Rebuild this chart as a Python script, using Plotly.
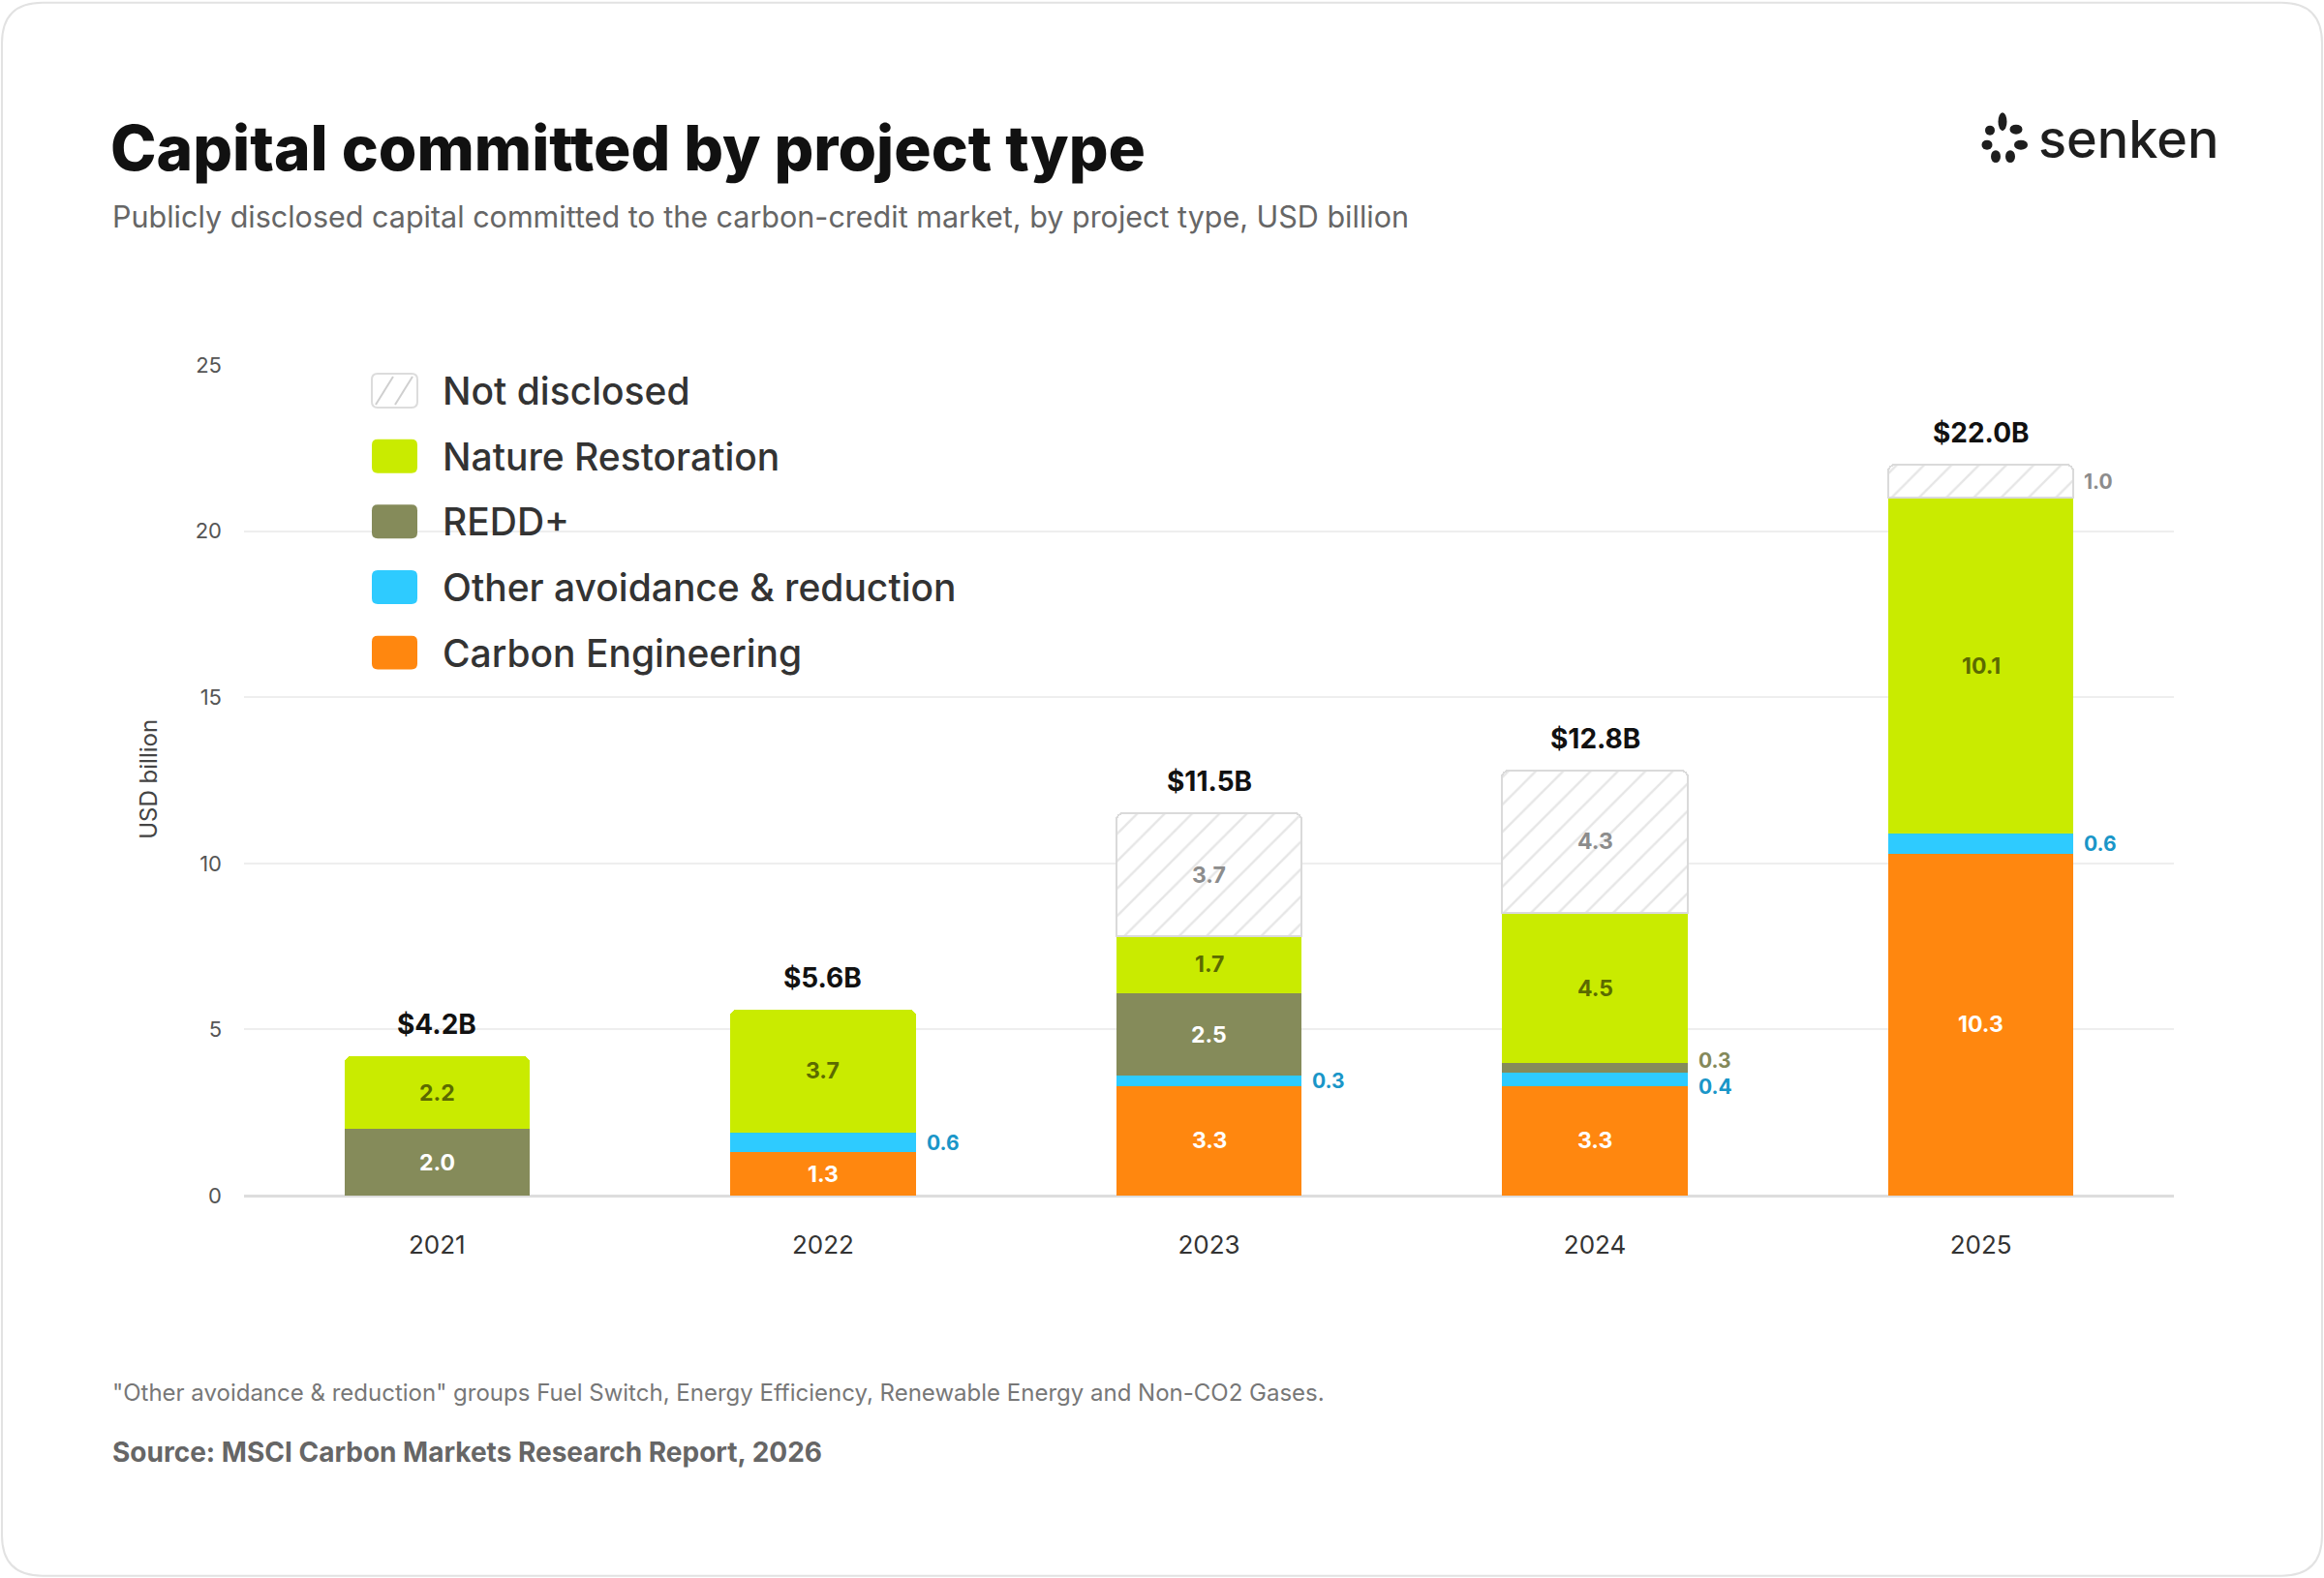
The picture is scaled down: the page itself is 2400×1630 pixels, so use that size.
import plotly.graph_objects as go

# ---------------- data ----------------
years = ["2021", "2022", "2023", "2024", "2025"]
carbon_engineering = [0, 1.3, 3.3, 3.3, 10.3]
other_avoidance = [0, 0.6, 0.3, 0.4, 0.6]
redd_plus = [2.0, 0, 2.5, 0.3, 0]
nature_restoration = [2.2, 3.7, 1.7, 4.5, 10.1]
not_disclosed = [0, 0, 3.7, 4.3, 1.0]
totals = [4.2, 5.6, 11.5, 12.8, 22.0]

series_names = ["Carbon Engineering", "Other avoidance & reduction", "REDD+",
                "Nature Restoration", "Not disclosed"]
series_values = [carbon_engineering, other_avoidance, redd_plus,
                 nature_restoration, not_disclosed]

# ---------------- style ----------------
W, H = 2400, 1630
PL, PR, PT, PB = 252, 2245, 376.5, 1235   # plot area in px
FONT = "Inter"
colors = {
    "Carbon Engineering": "#FF870F",
    "Other avoidance & reduction": "#2ECBFF",
    "REDD+": "#858B5A",
    "Nature Restoration": "#C9EB00",
    "Not disclosed": "#FFFFFF",
}
inside_label_color = {
    "Carbon Engineering": "#FFFFFF",
    "Other avoidance & reduction": "#FFFFFF",
    "REDD+": "#FFFFFF",
    "Nature Restoration": "#5B6A00",
    "Not disclosed": "#8C8C8C",
}
outside_label_color = {
    "Carbon Engineering": "#FF870F",
    "Other avoidance & reduction": "#1A96C8",
    "REDD+": "#84895A",
    "Nature Restoration": "#7E9400",
    "Not disclosed": "#8C8C8C",
}
BAR_W = 0.48


def X(px):
    return (px - PL) / (PR - PL)


def Y(py):
    return (PB - py) / (PB - PT)


def rrect_path(x0, y0, x1, y1, r):
    return (f"M {X(x0 + r)},{Y(y0)} L {X(x1 - r)},{Y(y0)} Q {X(x1)},{Y(y0)} {X(x1)},{Y(y0 + r)} "
            f"L {X(x1)},{Y(y1 - r)} Q {X(x1)},{Y(y1)} {X(x1 - r)},{Y(y1)} "
            f"L {X(x0 + r)},{Y(y1)} Q {X(x0)},{Y(y1)} {X(x0)},{Y(y1 - r)} "
            f"L {X(x0)},{Y(y0 + r)} Q {X(x0)},{Y(y0)} {X(x0 + r)},{Y(y0)} Z")


fig = go.Figure()
xs = list(range(len(years)))

for name, vals in zip(series_names, series_values):
    yv = [v if v else None for v in vals]
    if name == "Not disclosed":
        marker = dict(color="white",
                      pattern=dict(shape="/", fgcolor="#CDCDCD", bgcolor="white",
                                   size=20, solidity=0.12),
                      line=dict(color="#DADADA", width=2))
    else:
        marker = dict(color=colors[name], line=dict(width=0))
    fig.add_trace(go.Bar(x=xs, y=yv, name=name, width=BAR_W, marker=marker,
                         showlegend=False, hoverinfo="skip"))

annotations = []
shapes = []

# segment labels
for i in xs:
    base = 0.0
    outside = []
    for name, vals in zip(series_names, series_values):
        v = vals[i]
        if v:
            mid = base + v / 2
            if v > 1.0:
                annotations.append(dict(
                    x=i, y=mid, xref="x", yref="y", text=f"<b>{v:.1f}</b>", showarrow=False,
                    font=dict(family=FONT, size=23, color=inside_label_color[name])))
            else:
                outside.append([name, v, mid])
            base += v
    # nudge adjacent outside labels apart
    shifts = [0] * len(outside)
    for k in range(1, len(outside)):
        gap_px = (outside[k][2] - outside[k - 1][2]) * (PB - PT) / 25
        if gap_px < 26:
            shifts[k - 1] -= 8
            shifts[k] += 7
    for (name, v, mid), s in zip(outside, shifts):
        annotations.append(dict(
            x=i + BAR_W / 2, y=mid, xref="x", yref="y", xanchor="left", xshift=9, yshift=s,
            text=f"<b>{v:.1f}</b>", showarrow=False,
            font=dict(family=FONT, size=21, color=outside_label_color[name])))

# totals
for i, t in zip(xs, totals):
    annotations.append(dict(x=i, y=t, xref="x", yref="y", yshift=33, showarrow=False,
                            text=f"<b>${t:.1f}B</b>",
                            font=dict(family=FONT, size=28, color="#111111", weight=800)))

# legend (custom)
legend_order = ["Not disclosed", "Nature Restoration", "REDD+",
                "Other avoidance & reduction", "Carbon Engineering"]
for k, name in enumerate(legend_order):
    cy = 403 + k * 67.7
    x0, x1, y0, y1 = 384, 431, cy - 17.5, cy + 17.5
    if name == "Not disclosed":
        shapes.append(dict(type="path", xref="paper", yref="paper",
                           path=rrect_path(x0, y0, x1, y1, 6),
                           fillcolor="white", line=dict(color="#DCDCDC", width=2)))
        for off in (0, 20):
            shapes.append(dict(type="line", xref="paper", yref="paper",
                               x0=X(x0 + 4 + off), y0=Y(y1 - 3), x1=X(x0 + 22 + off), y1=Y(y0 + 3),
                               line=dict(color="#CFCFCF", width=2)))
    else:
        shapes.append(dict(type="path", xref="paper", yref="paper",
                           path=rrect_path(x0, y0, x1, y1, 6),
                           fillcolor=colors[name], line=dict(width=0)))
    annotations.append(dict(x=X(455), y=Y(cy), xref="paper", yref="paper",
                            xanchor="left", yanchor="middle", showarrow=False, text=name,
                            font=dict(family=FONT, size=39, color="#333333", weight=500)))

# title, subtitle
annotations.append(dict(x=X(112), y=Y(152), xref="paper", yref="paper", xanchor="left",
                        yanchor="middle", showarrow=False,
                        text="Capital committed by project type",
                        font=dict(family=FONT, size=64, color="#111111", weight=800)))
annotations.append(dict(x=X(114), y=Y(223), xref="paper", yref="paper", xanchor="left",
                        yanchor="middle", showarrow=False,
                        text="Publicly disclosed capital committed to the carbon-credit market, by project type, USD billion",
                        font=dict(family=FONT, size=30.5, color="#666666")))
# y-axis title
annotations.append(dict(x=X(137), y=Y(805), xref="paper", yref="paper", textangle=-90,
                        showarrow=False, text="USD billion",
                        font=dict(family=FONT, size=24, color="#444444")))
# footer
annotations.append(dict(x=X(114), y=Y(1439), xref="paper", yref="paper", xanchor="left",
                        yanchor="middle", showarrow=False,
                        text="\"Other avoidance & reduction\" groups Fuel Switch, Energy Efficiency, Renewable Energy and Non-CO2 Gases.",
                        font=dict(family=FONT, size=24, color="#777777")))
annotations.append(dict(x=X(114), y=Y(1500), xref="paper", yref="paper", xanchor="left",
                        yanchor="middle", showarrow=False,
                        text="<b>Source: MSCI Carbon Markets Research Report, 2026</b>",
                        font=dict(family=FONT, size=28, color="#666666")))
# logo
annotations.append(dict(x=X(2103), y=Y(143), xref="paper", yref="paper", xanchor="left",
                        yanchor="middle", showarrow=False, text="senken",
                        font=dict(family=FONT, size=54, color="#1E1E1E", weight=500)))
logo_dots = [(2068, 125, 9, 19), (2082, 133, 13, 10), (2087, 149, 14, 10), (2076, 161, 10, 13),
             (2061, 161, 10, 13), (2052, 149, 11, 10), (2055, 134, 10, 10)]
for cx, cy, w, h in logo_dots:
    shapes.append(dict(type="circle", xref="paper", yref="paper",
                       x0=X(cx - w / 2), x1=X(cx + w / 2), y0=Y(cy + h / 2), y1=Y(cy - h / 2),
                       fillcolor="#1E1E1E", line=dict(width=0)))

# card border
shapes.append(dict(type="path", xref="paper", yref="paper", layer="below",
                   path=rrect_path(2, 2, W - 2, H - 2, 42),
                   fillcolor="rgba(0,0,0,0)", line=dict(color="#E2E2E2", width=2)))

fig.update_layout(
    width=W, height=H,
    margin=dict(l=PL, r=W - PR, t=PT, b=H - PB, pad=0),
    paper_bgcolor="white", plot_bgcolor="white",
    barmode="stack", barcornerradius=7, bargap=0,
    font=dict(family=FONT),
    annotations=annotations, shapes=shapes,
    xaxis=dict(range=[-0.5, 4.5], tickvals=xs, ticktext=years, showgrid=False,
               zeroline=False, showline=False, ticks="", ticklabelstandoff=33,
               tickfont=dict(family=FONT, size=26, color="#333333"), fixedrange=True),
    yaxis=dict(range=[0, 25], tickvals=[0, 5, 10, 15, 20, 25], showgrid=True,
               gridcolor="#EEEEEE", gridwidth=1.5, zeroline=True, zerolinecolor="#DDDDDD",
               zerolinewidth=3, showline=False, ticks="", ticklabelstandoff=22,
               tickfont=dict(family=FONT, size=22, color="#555555"), fixedrange=True),
)

fig.write_html("out.html")
